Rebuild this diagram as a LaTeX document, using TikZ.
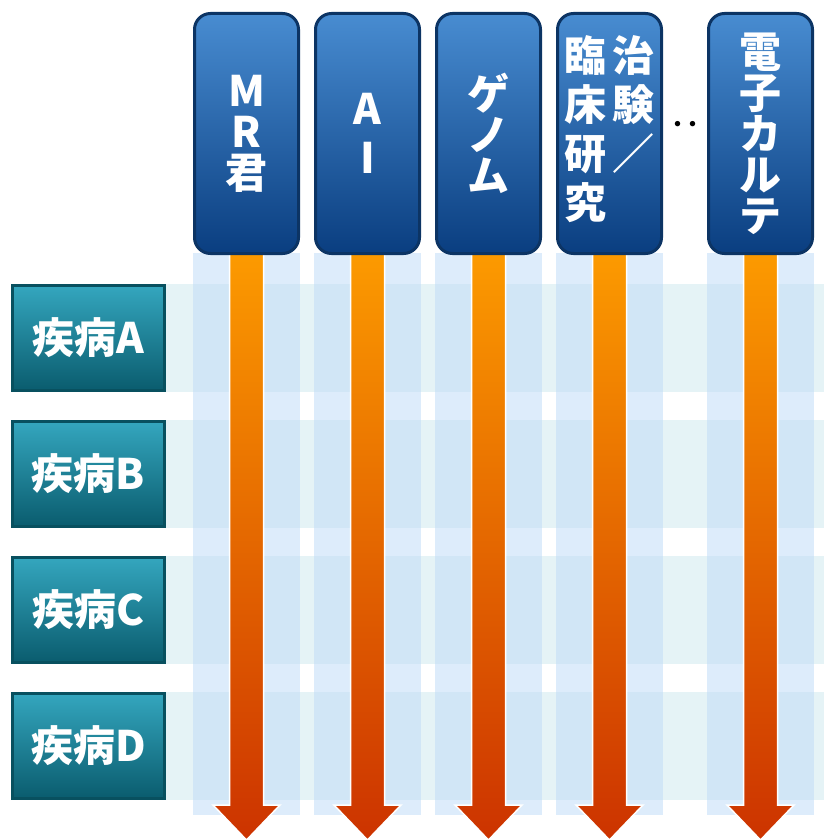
\documentclass[tikz,border=0pt]{standalone}
\usepackage{fontspec}
\newfontfamily\jp{Noto Sans CJK JP}
\usetikzlibrary{calc,backgrounds}
\definecolor{hdrtop}{RGB}{72,140,209}
\definecolor{hdrbot}{RGB}{10,62,128}
\definecolor{hdrline}{RGB}{12,52,100}
\definecolor{rowtop}{RGB}{52,166,190}
\definecolor{rowbot}{RGB}{10,92,110}
\definecolor{rowline}{RGB}{8,80,95}
\definecolor{arrtop}{RGB}{252,154,0}
\definecolor{arrbot}{RGB}{204,51,0}
\definecolor{colband}{RGB}{188,218,247}
\definecolor{rowband}{RGB}{198,228,234}
\begin{document}
\begin{tikzpicture}[x=1pt,y=-1pt,
  hdr/.style={draw=hdrline, line width=3pt, rounded corners=16pt,
    top color=hdrtop, bottom color=hdrbot,
    minimum width=104pt, minimum height=240pt,
    text=white, align=center, inner sep=0pt,
    font=\jp\bfseries\fontsize{42}{41}\selectfont},
  rowbox/.style={draw=rowline, line width=3pt,
    top color=rowtop, bottom color=rowbot,
    minimum width=152pt, minimum height=105pt,
    text=white, inner sep=0pt,
    font=\jp\bfseries\fontsize{42}{42}\selectfont},
  colbandfill/.style={fill=colband, fill opacity=0.5, draw=none},
  rowbandfill/.style={fill=rowband, fill opacity=0.45, draw=none},
  arr/.style={top color=arrtop, bottom color=arrbot, draw=white, line width=1.5pt}
]
\useasboundingbox (0,0) rectangle (823,840);

% column headers
\node[hdr] (h1) at (246.5,133.5) {M\\R\\君};
\node[hdr] (h2) at (367.5,133.5) {A\\[8pt]I};
\node[hdr] (h3) at (488.5,133.5) {ゲ\\ノ\\ム};
\node[hdr] (h4) at (609.5,133.5) {\fontsize{42}{43}\selectfont\begin{tabular}{@{}c@{\hspace{6pt}}c@{}}臨&治\\床&験\\研&／\\究&\end{tabular}};
\node[hdr] (h5) at (760.5,133.5) {電\\子\\カ\\ル\\テ};
\node[font=\jp\bfseries\fontsize{30}{30}\selectfont] (dots) at (685,128) {‥};

% row labels
\node[rowbox] (rA) at (88.5,338) {疾病A};
\node[rowbox] (rB) at (88.5,474) {疾病B};
\node[rowbox] (rC) at (88.5,610) {疾病C};
\node[rowbox] (rD) at (88.5,746) {疾病D};

\begin{scope}[on background layer]
  % row bands
  \foreach \r in {rA,rB,rC,rD}{
    \fill[rowbandfill] (\r.north east) rectangle ($(\r.south east)+(660,0)$);
  }
  % column bands
  \foreach \h in {h1,h2,h3,h4,h5}{
    \fill[colbandfill] ($(\h.south west)+(0,-2)$) rectangle ($(\h.south east)+(0,560)$);
  }
  % arrows
  \foreach \h in {h1,h2,h3,h4,h5}{
    \coordinate (t\h) at ($(\h.south)+(0,585)$);
    \shade[arr] ($(\h.south)+(-17,-2)$) -- ($(\h.south)+(-17,550)$)
      -- ($(\h.south)+(-33.5,550)$) -- (t\h)
      -- ($(\h.south)+(33.5,550)$) -- ($(\h.south)+(17,550)$)
      -- ($(\h.south)+(17,-2)$) -- cycle;
  }
\end{scope}
\end{tikzpicture}
\end{document}
